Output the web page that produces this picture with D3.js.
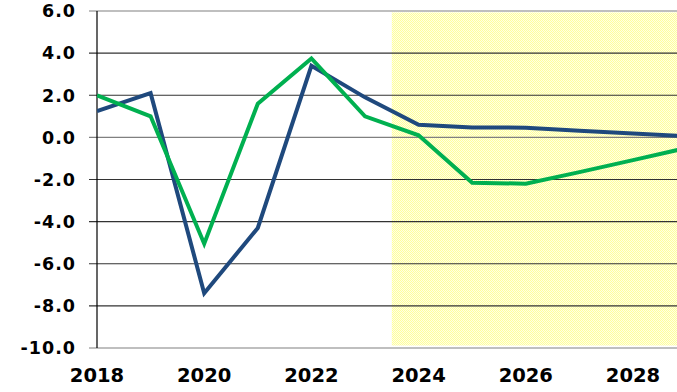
<!DOCTYPE html>
<html lang="en">
  <head>
    <meta charset="UTF-8" />
    <title>Chart</title>
    <script src="https://d3js.org/d3.v7.min.js"></script>
    <style>
      body {
        margin: 0;
        background-color: #fff;
      }
      svg {
        display: block;
      }
      .ylab {
        font-family: "DejaVu Sans", Verdana, sans-serif;
        font-weight: bold;
        font-size: 17.5px;
        letter-spacing: 1px;
        fill: #000;
      }
      .xlab {
        font-family: "DejaVu Sans", Verdana, sans-serif;
        font-weight: bold;
        font-size: 19.5px;
        fill: #000;
      }
    </style>
  </head>
  <body>
    <svg id="chart" width="677" height="392"></svg>

    <script>
      const years = [2018, 2019, 2020, 2021, 2022, 2023, 2024, 2025, 2026, 2027, 2028, 2029];
      const blueSeries = [1.25, 2.1, -7.4, -4.3, 3.4, 1.9, 0.6, 0.47, 0.46, 0.32, 0.18, 0.06];
      const greenSeries = [2.0, 1.0, -5.05, 1.6, 3.75, 1.0, 0.1, -2.15, -2.2, -1.65, -1.08, -0.5];
      const yTicks = [6, 4, 2, 0, -2, -4, -6, -8, -10];
      const xTicks = [2018, 2020, 2022, 2024, 2026, 2028];
      const forecastStart = 2023.5;

      const width = 677,
        height = 392;
      const margin = { top: 11, left: 97, bottom: 44 };

      const svg = d3.select("#chart");

      const x = d3
        .scaleLinear()
        .domain([2018, 2028])
        .range([margin.left, 633]);

      const y = d3
        .scaleLinear()
        .domain([-10, 6])
        .range([height - margin.bottom, margin.top]);

      // motif pointillé jaune de la zone de prévision
      const defs = svg.append("defs");
      const pat = defs
        .append("pattern")
        .attr("id", "dots")
        .attr("width", 2)
        .attr("height", 2)
        .attr("patternUnits", "userSpaceOnUse");
      pat.append("rect").attr("width", 2).attr("height", 2).attr("fill", "#ffffe4");
      pat.append("rect").attr("width", 1).attr("height", 1).attr("fill", "#ffff9c");
      pat.append("rect").attr("x", 1).attr("y", 1).attr("width", 1).attr("height", 1).attr("fill", "#ffff9c");

      defs
        .append("clipPath")
        .attr("id", "plot-clip")
        .append("rect")
        .attr("x", margin.left)
        .attr("y", 0)
        .attr("width", width - margin.left)
        .attr("height", height);

      svg
        .append("rect")
        .attr("x", x(forecastStart))
        .attr("y", y(6) + 1.5)
        .attr("width", width - x(forecastStart))
        .attr("height", y(-10) - y(6) - 4)
        .attr("fill", "url(#dots)");

      // lignes horizontales
      svg
        .append("g")
        .selectAll("line")
        .data(yTicks)
        .enter()
        .append("line")
        .attr("x1", margin.left - 8)
        .attr("x2", width)
        .attr("y1", (d) => y(d))
        .attr("y2", (d) => y(d))
        .attr("stroke", (d) => (d === 6 || d === 0 || d === -10 ? "#808080" : "#333"))
        .attr("stroke-width", 1.1);

      // axe vertical
      svg
        .append("line")
        .attr("x1", margin.left)
        .attr("x2", margin.left)
        .attr("y1", y(6))
        .attr("y2", y(-10))
        .attr("stroke", "#000")
        .attr("stroke-width", 1.2);

      svg
        .append("g")
        .selectAll("text")
        .data(yTicks)
        .enter()
        .append("text")
        .attr("class", "ylab")
        .attr("x", 76)
        .attr("y", (d) => y(d))
        .attr("dy", "0.36em")
        .attr("text-anchor", "end")
        .text((d) => d.toFixed(1));

      svg
        .append("g")
        .selectAll("text")
        .data(xTicks)
        .enter()
        .append("text")
        .attr("class", "xlab")
        .attr("x", (d) => x(d))
        .attr("y", 382)
        .attr("text-anchor", "middle")
        .text((d) => d);

      const line = d3
        .line()
        .x((d, i) => x(years[i]))
        .y((d) => y(d));

      const lines = svg.append("g").attr("clip-path", "url(#plot-clip)");

      lines
        .append("path")
        .datum(blueSeries)
        .attr("d", line)
        .attr("fill", "none")
        .attr("stroke", "#1f497d")
        .attr("stroke-width", 4)
        .attr("stroke-linejoin", "miter");

      lines
        .append("path")
        .datum(greenSeries)
        .attr("d", line)
        .attr("fill", "none")
        .attr("stroke", "#00b050")
        .attr("stroke-width", 4)
        .attr("stroke-linejoin", "miter");
    </script>
  </body>
</html>
